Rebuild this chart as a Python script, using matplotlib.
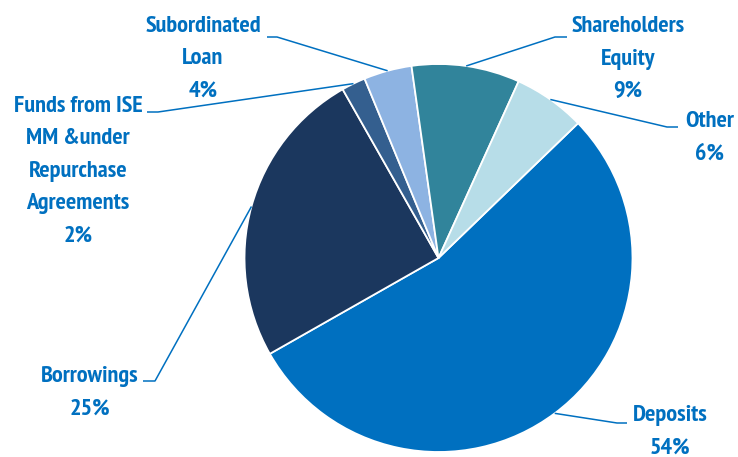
import numpy as np
import matplotlib.pyplot as plt

# data
labels = ["Deposits", "Borrowings", "Funds from ISE\nMM &under\nRepurchase\nAgreements",
          "Subordinated\nLoan", "Shareholders\nEquity", "Other"]
shares = [54, 25, 2, 4, 9, 6]
colors = ["#0070C0", "#1B375E", "#345F8F", "#8DB3E2", "#31849B", "#B7DDE8"]

# label layout in pixels from the top-left: text centre x, first baseline y, leader elbow x, end x, y
text_pos = [(670, 421), (90, 382), (78, 112), (203, 32), (628, 32), (710, 127)]
elbows = [(617, 627, 423), (155, 143, 381), (158, 147, 112),
          (277, 267, 37), (555, 567, 37), (667, 678, 127)]

W, H = 738, 457
cx, cy, r = 438.5, H - 258, 194
pitch = 32.5
blue = "#0070C0"

fig = plt.figure(figsize=(W / 100, H / 100), dpi=100)
ax = fig.add_axes([0, 0, 1, 1])
wedges, _ = ax.pie(shares, colors=colors, startangle=44, counterclock=False,
                   center=(cx, cy), radius=r,
                   wedgeprops=dict(edgecolor="white", linewidth=1.3))
ax.set_xlim(0, W)
ax.set_ylim(0, H)
ax.set_aspect("equal")
ax.axis("off")

for w, lab, val, (tx, ty), (ex, hx, ey) in zip(wedges, labels, shares, text_pos, elbows):
    mid = np.deg2rad((w.theta1 + w.theta2) / 2)
    sx, sy = cx + r * np.cos(mid), cy + r * np.sin(mid)
    ax.plot([sx, ex, hx], [sy, H - ey, H - ey], color=blue, lw=1.1, solid_capstyle="butt")
    lines = lab.split("\n") + [f"{val}%"]
    for i, line in enumerate(lines):
        ax.text(tx, H - (ty + i * pitch), line, ha="center", va="baseline",
                color=blue, fontsize=17.5, fontweight="bold", family="PT Sans Narrow")

fig.savefig("out.png", dpi=100)
